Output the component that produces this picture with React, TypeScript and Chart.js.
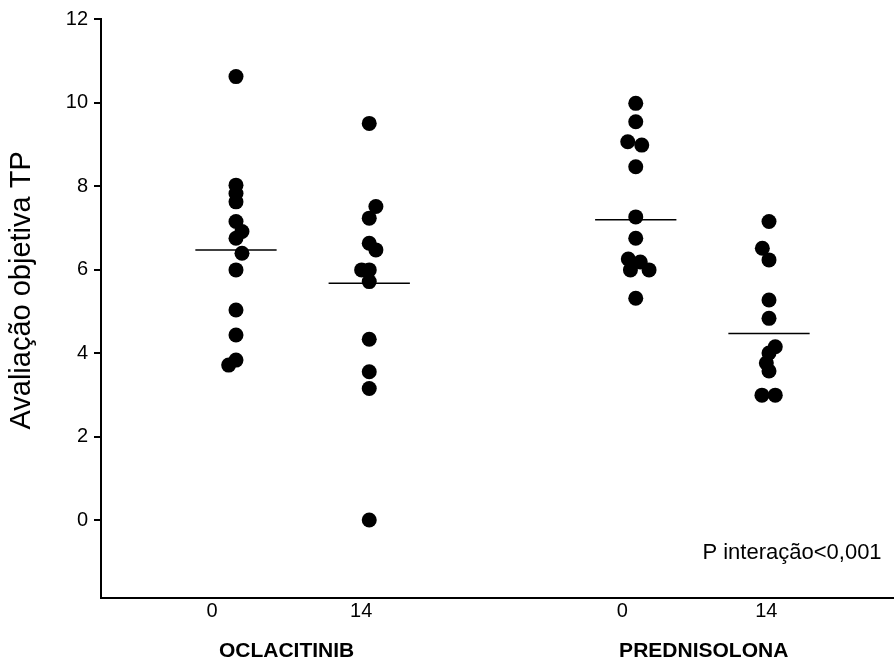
import React, { useEffect, useRef } from "react";
import { Chart, registerables } from "chart.js";

Chart.register(...registerables);

// ---- data ----
const categories = ["0", "14", "0", "14"];
const categoryPositions = [1, 2, 4, 5];
const tickLabelPositions = [0.82, 1.94, 3.9, 4.98];
const groups = ["OCLACITINIB", "PREDNISOLONA"];
const groupPositions = [1.38, 4.51];
const yTicks = [0, 2, 4, 6, 8, 10, 12];

const oclacitinib0 = [10.62, 8.02, 7.82, 7.62, 7.15, 6.91, 6.75, 6.39, 5.99, 5.03, 4.43, 3.83, 3.71];
const oclacitinib0Jitter = [0, 0, 0, 0, 0, 0.045, 0, 0.045, 0, 0, 0, 0, -0.055];

const oclacitinib14 = [9.5, 7.51, 7.23, 6.63, 6.47, 5.99, 5.99, 5.71, 4.33, 3.55, 3.15, 0.0];
const oclacitinib14Jitter = [0, 0.05, 0, 0, 0.05, -0.057, 0, 0, 0, 0, 0, 0];

const prednisolona0 = [9.98, 9.54, 9.06, 8.98, 8.46, 7.26, 6.75, 6.25, 6.18, 5.99, 5.99, 5.31];
const prednisolona0Jitter = [0, 0, -0.06, 0.045, 0, 0, 0, -0.056, 0.034, 0.1, -0.04, 0];

const prednisolona14 = [7.15, 6.51, 6.23, 5.27, 4.83, 4.15, 4.0, 3.76, 3.57, 2.99, 2.99];
const prednisolona14Jitter = [0, -0.05, 0, 0, 0, 0.047, 0, -0.02, 0, -0.053, 0.047];

const means = [6.47, 5.67, 7.19, 4.47];
const meanHalfWidth = 0.305;

const yAxisTitle = "Avaliação objetiva TP";
const yAxisTitleCenter = 5.5;
const annotationText = "P interação<0,001";
const annotationPos = { x: 5.845, y: -0.8 };

const FONT = "'Liberation Sans', Arial, sans-serif";

const seriesValues = [oclacitinib0, oclacitinib14, prednisolona0, prednisolona14];
const seriesJitter = [oclacitinib0Jitter, oclacitinib14Jitter, prednisolona0Jitter, prednisolona14Jitter];

const labelsPlugin = {
  id: "extraLabels",
  afterDraw(chart: any) {
    const { ctx, chartArea, scales } = chart;
    const xs = scales.x;
    const ys = scales.y;
    ctx.save();
    ctx.fillStyle = "#000";
    ctx.textBaseline = "middle";
    ctx.textAlign = "center";
    ctx.font = `bold 21px ${FONT}`;
    groups.forEach((g, i) => {
      ctx.fillText(g, xs.getPixelForValue(groupPositions[i]), chartArea.bottom + 53);
    });
    ctx.textAlign = "right";
    ctx.font = `22px ${FONT}`;
    ctx.fillText(annotationText, xs.getPixelForValue(annotationPos.x), ys.getPixelForValue(annotationPos.y));
    // y axis title
    ctx.save();
    ctx.translate(22, ys.getPixelForValue(yAxisTitleCenter));
    ctx.rotate(-Math.PI / 2);
    ctx.textAlign = "center";
    ctx.font = `29px ${FONT}`;
    ctx.fillText(yAxisTitle, 0, 0);
    ctx.restore();
    ctx.restore();
  },
};

export default function App() {
  const ref = useRef<HTMLCanvasElement | null>(null);

  useEffect(() => {
    if (!ref.current) return;
    const scatterSets = seriesValues.map((vals, i) => ({
      type: "scatter" as const,
      label: categories[i],
      data: vals.map((v, j) => ({ x: categoryPositions[i] + seriesJitter[i][j], y: v })),
      backgroundColor: "#000",
      borderWidth: 0,
      pointRadius: 7.5,
      pointHoverRadius: 7.5,
    }));
    const meanSets = means.map((m, i) => ({
      type: "line" as const,
      label: "mean " + i,
      data: [
        { x: categoryPositions[i] - meanHalfWidth, y: m },
        { x: categoryPositions[i] + meanHalfWidth, y: m },
      ],
      borderColor: "#000",
      borderWidth: 1.5,
      pointRadius: 0,
      fill: false,
    }));

    const chart = new Chart(ref.current, {
      type: "scatter",
      data: { datasets: [...scatterSets, ...meanSets] as any },
      options: {
        animation: false,
        responsive: false,
        layout: { autoPadding: false, padding: { left: 0, right: 0, top: 19, bottom: 0 } },
        plugins: { legend: { display: false }, tooltip: { enabled: false } },
        scales: {
          x: {
            type: "linear",
            min: -0.013,
            max: 5.938,
            grid: { display: false, drawTicks: false },
            border: { display: true, color: "#000", width: 2 },
            afterBuildTicks: (s: any) => {
              s.ticks = tickLabelPositions.map((v) => ({ value: v }));
            },
            afterFit: (s: any) => {
              s.height = 66;
              s.paddingLeft = 0;
              s.paddingRight = 0;
            },
            ticks: {
              autoSkip: false,
              maxRotation: 0,
              padding: 1,
              color: "#000",
              font: { family: FONT, size: 20 },
              callback: (_v: any, idx: number) => categories[idx],
            },
          },
          y: {
            type: "linear",
            min: -1.868,
            max: 12,
            grid: {
              display: true,
              drawOnChartArea: false,
              drawTicks: true,
              tickLength: 7,
              color: "#000",
              lineWidth: 2,
            },
            border: { display: true, color: "#000", width: 2 },
            afterBuildTicks: (s: any) => {
              s.ticks = yTicks.map((v) => ({ value: v }));
            },
            afterFit: (s: any) => {
              s.width = 101;
            },
            ticks: {
              padding: 6,
              color: "#000",
              font: { family: FONT, size: 20 },
            },
            title: { display: false },
          },
        },
      },
      plugins: [labelsPlugin],
    } as any);
    return () => chart.destroy();
  }, []);

  return (
    <div style={{ position: "fixed", left: 0, top: 0, width: 894, height: 664, background: "#fff" }}>
      <canvas ref={ref} width={894} height={664} />
    </div>
  );
}
